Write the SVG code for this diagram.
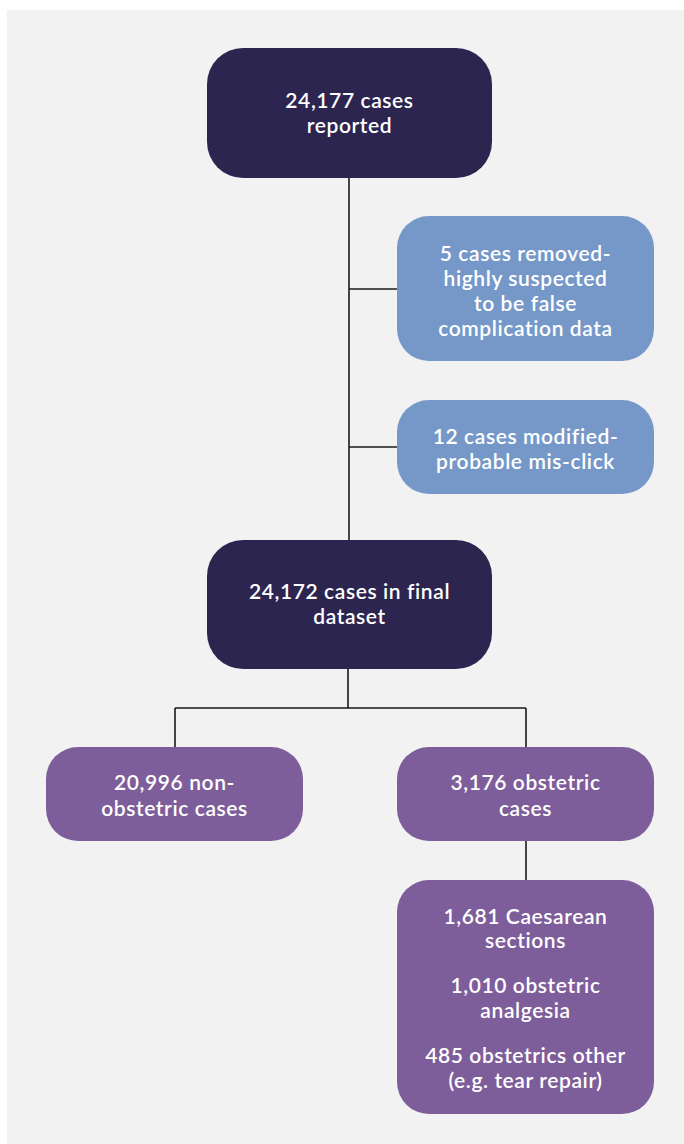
<svg xmlns="http://www.w3.org/2000/svg" width="684" height="1144" viewBox="0 0 684 1144">
<style>
.t{font-family:Lato,"Open Sans","Liberation Sans",sans-serif;font-weight:600;font-size:21px;letter-spacing:0.6px;fill:#ffffff;text-anchor:middle}
.dark{fill:#2c2550}
.blue{fill:#7698c8}
.purple{fill:#7e5e9a}
.ln{stroke:#1a1a1a;stroke-width:1.6;fill:none}
</style>
<rect x="7" y="10" width="677" height="1134" fill="#f2f2f2"/>
<g id="connectors">
<path class="ln" d="M349 178 V541"/>
<path class="ln" d="M349 289 H397"/>
<path class="ln" d="M349 447 H397"/>
<path class="ln" d="M348 669 V708 M175 708 H526 M175 708 V747 M526 708 V747"/>
<path class="ln" d="M526 841 V880"/>
</g>
<g id="reported">
<rect class="dark" x="207" y="48" width="285" height="130" rx="36"/>
<text class="t" x="349.5" y="108">24,177 cases</text>
<text class="t" x="349.5" y="133">reported</text>
</g>
<g id="removed">
<rect class="blue" x="397" y="216" width="257" height="145" rx="32"/>
<text class="t" x="525.5" y="261">5 cases removed-</text>
<text class="t" x="525.5" y="286">highly suspected</text>
<text class="t" x="525.5" y="311">to be false</text>
<text class="t" x="525.5" y="336">complication data</text>
</g>
<g id="modified">
<rect class="blue" x="397" y="400" width="257" height="94" rx="32"/>
<text class="t" x="525.5" y="444">12 cases modified-</text>
<text class="t" x="525.5" y="469">probable mis-click</text>
</g>
<g id="final">
<rect class="dark" x="207" y="540" width="285" height="129" rx="36"/>
<text class="t" x="349.5" y="599">24,172 cases in final</text>
<text class="t" x="349.5" y="624">dataset</text>
</g>
<g id="nonobstetric">
<rect class="purple" x="46" y="747" width="257" height="94" rx="32"/>
<text class="t" x="174.5" y="790">20,996 non-</text>
<text class="t" x="174.5" y="816">obstetric cases</text>
</g>
<g id="obstetric">
<rect class="purple" x="397" y="747" width="257" height="94" rx="32"/>
<text class="t" x="525.5" y="790">3,176 obstetric</text>
<text class="t" x="525.5" y="816">cases</text>
</g>
<g id="breakdown">
<rect class="purple" x="397" y="880" width="257" height="234" rx="32"/>
<text class="t" x="525.5" y="924">1,681 Caesarean</text>
<text class="t" x="525.5" y="948">sections</text>
<text class="t" x="525.5" y="993">1,010 obstetric</text>
<text class="t" x="525.5" y="1018">analgesia</text>
<text class="t" x="525.5" y="1063">485 obstetrics other</text>
<text class="t" x="525.5" y="1088">(e.g. tear repair)</text>
</g>
</svg>
